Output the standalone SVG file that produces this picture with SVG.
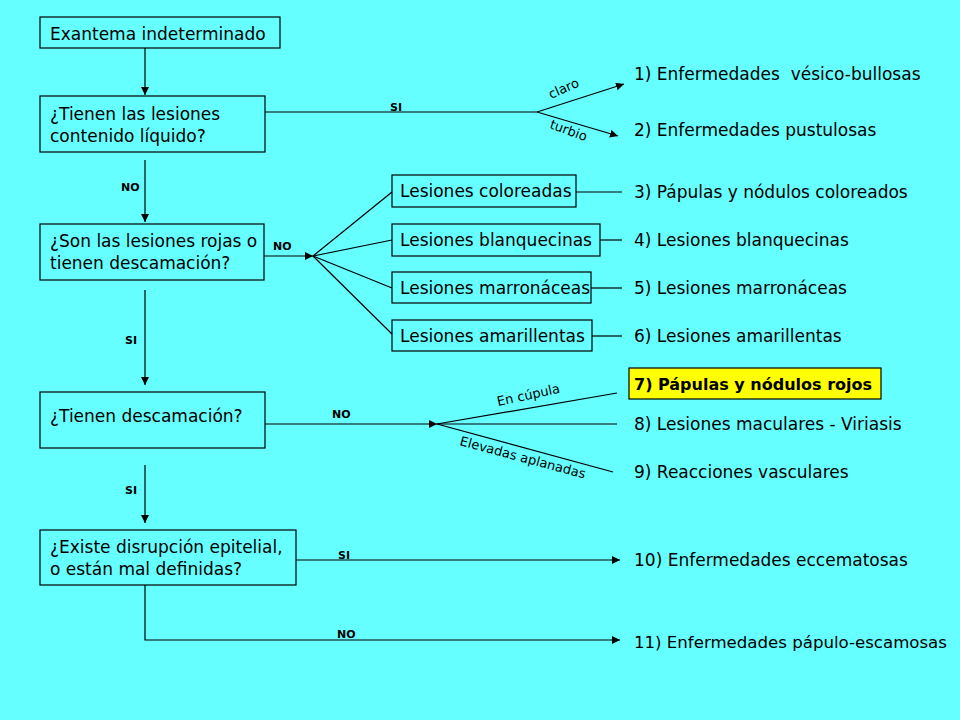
<svg xmlns="http://www.w3.org/2000/svg" width="960" height="720" viewBox="0 0 960 720">
<defs>
<marker id="ah" viewBox="0 0 10 10" refX="10" refY="5" markerWidth="8" markerHeight="8" markerUnits="userSpaceOnUse" orient="auto">
<path d="M0,0 L10,5 L0,10 z" fill="#000"/>
</marker>
<style>
.box{fill:none;stroke:#000;stroke-width:1.2}
.hl{fill:#ffff00;stroke:#000;stroke-width:1.2}
.t{font-family:"DejaVu Sans","Liberation Sans",sans-serif;font-size:17px;fill:#000}
.tn{font-family:"DejaVu Sans","Liberation Sans",sans-serif;font-size:16.6px;fill:#000}
.tb{font-family:"DejaVu Sans","Liberation Sans",sans-serif;font-size:16px;font-weight:bold;fill:#000}
.lb{font-family:"DejaVu Sans","Liberation Sans",sans-serif;font-size:11px;font-weight:bold;fill:#000}
.sm{font-family:"DejaVu Sans","Liberation Sans",sans-serif;font-size:13px;fill:#000}
.c{fill:none;stroke:#000;stroke-width:1.2}
</style>
</defs>
<rect x="0" y="0" width="960" height="720" fill="#66ffff"/>

<g id="connectors">
<line class="c" x1="145" y1="48" x2="145" y2="95" marker-end="url(#ah)"/>
<line class="c" x1="265" y1="112" x2="537" y2="112"/>
<line class="c" x1="537" y1="112" x2="624" y2="84" marker-end="url(#ah)"/>
<line class="c" x1="537" y1="112" x2="618" y2="136" marker-end="url(#ah)"/>
<line class="c" x1="145" y1="160" x2="145" y2="222" marker-end="url(#ah)"/>
<line class="c" x1="264" y1="256" x2="313" y2="256" marker-end="url(#ah)"/>
<line class="c" x1="313" y1="256" x2="392" y2="192"/>
<line class="c" x1="313" y1="256" x2="392" y2="240"/>
<line class="c" x1="313" y1="256" x2="392" y2="288"/>
<line class="c" x1="313" y1="256" x2="392" y2="334"/>
<line class="c" x1="576" y1="192" x2="622" y2="192"/>
<line class="c" x1="600" y1="240" x2="622" y2="240"/>
<line class="c" x1="591" y1="288" x2="622" y2="288"/>
<line class="c" x1="592" y1="336" x2="622" y2="336"/>
<line class="c" x1="145" y1="290" x2="145" y2="385" marker-end="url(#ah)"/>
<line class="c" x1="265" y1="424" x2="437" y2="424" marker-end="url(#ah)"/>
<line class="c" x1="437" y1="424" x2="617" y2="393"/>
<line class="c" x1="437" y1="424" x2="617" y2="424"/>
<line class="c" x1="437" y1="424" x2="613" y2="472"/>
<line class="c" x1="145" y1="465" x2="145" y2="523" marker-end="url(#ah)"/>
<line class="c" x1="296" y1="560" x2="620" y2="560" marker-end="url(#ah)"/>
<polyline class="c" points="145,585 145,640 620,640" marker-end="url(#ah)"/>
<text class="lb" x="390" y="111">SI</text>
<text class="lb" x="121" y="191">NO</text>
<text class="lb" x="273" y="250">NO</text>
<text class="lb" x="125" y="344">SI</text>
<text class="lb" x="332" y="418">NO</text>
<text class="lb" x="125" y="494">SI</text>
<text class="lb" x="338" y="559">SI</text>
<text class="lb" x="337" y="638">NO</text>
<text class="sm" transform="translate(551,99) rotate(-24)">claro</text>
<text class="sm" transform="translate(549,128) rotate(20)">turbio</text>
<text class="sm" transform="translate(498,406) rotate(-12)">En cúpula</text>
<text class="sm" transform="translate(459,445) rotate(15)">Elevadas aplanadas</text>
</g>

<g id="n-exantema">
<rect class="box" x="40" y="17" width="240" height="31"/>
<text class="t" x="50" y="40">Exantema indeterminado</text>
</g>
<g id="n-liquido">
<rect class="box" x="40" y="96" width="225" height="56"/>
<text class="t" x="50" y="120">¿Tienen las lesiones</text>
<text class="t" x="50" y="142">contenido líquido?</text>
</g>
<g id="n-rojas">
<rect class="box" x="40" y="224" width="224" height="56"/>
<text class="t" x="50" y="247">¿Son las lesiones rojas o</text>
<text class="t" x="50" y="269">tienen descamación?</text>
</g>
<g id="n-descamacion">
<rect class="box" x="40" y="392" width="225" height="56"/>
<text class="t" x="50" y="422">¿Tienen descamación?</text>
</g>
<g id="n-disrupcion">
<rect class="box" x="40" y="530" width="256" height="55"/>
<text class="t" x="50" y="553">¿Existe disrupción epitelial,</text>
<text class="t" x="50" y="575">o están mal definidas?</text>
</g>
<g id="n-coloreadas">
<rect class="box" x="392" y="175" width="184" height="32"/>
<text class="t" x="400" y="197">Lesiones coloreadas</text>
</g>
<g id="n-blanquecinas">
<rect class="box" x="392" y="224" width="208" height="32"/>
<text class="t" x="400" y="246">Lesiones blanquecinas</text>
</g>
<g id="n-marronaceas">
<rect class="box" x="392" y="272" width="199" height="31"/>
<text class="t" x="400" y="294">Lesiones marronáceas</text>
</g>
<g id="n-amarillentas">
<rect class="box" x="392" y="320" width="200" height="31"/>
<text class="t" x="400" y="342">Lesiones amarillentas</text>
</g>
<g id="r1"><text class="t" x="634" y="80">1) Enfermedades&#160; vésico-bullosas</text></g>
<g id="r2"><text class="t" x="634" y="136">2) Enfermedades pustulosas</text></g>
<g id="r3"><text class="t" x="634" y="198">3) Pápulas y nódulos coloreados</text></g>
<g id="r4"><text class="t" x="634" y="246">4) Lesiones blanquecinas</text></g>
<g id="r5"><text class="t" x="634" y="294">5) Lesiones marronáceas</text></g>
<g id="r6"><text class="t" x="634" y="342">6) Lesiones amarillentas</text></g>
<g id="r7">
<rect class="hl" x="629" y="368" width="252" height="31"/>
<text class="tb" x="634" y="390">7) Pápulas y nódulos rojos</text>
</g>
<g id="r8"><text class="t" x="634" y="430">8) Lesiones maculares - Viriasis</text></g>
<g id="r9"><text class="t" x="634" y="478">9) Reacciones vasculares</text></g>
<g id="r10"><text class="t" x="634" y="566">10) Enfermedades eccematosas</text></g>
<g id="r11"><text class="tn" x="634" y="648">11) Enfermedades pápulo-escamosas</text></g>
</svg>
